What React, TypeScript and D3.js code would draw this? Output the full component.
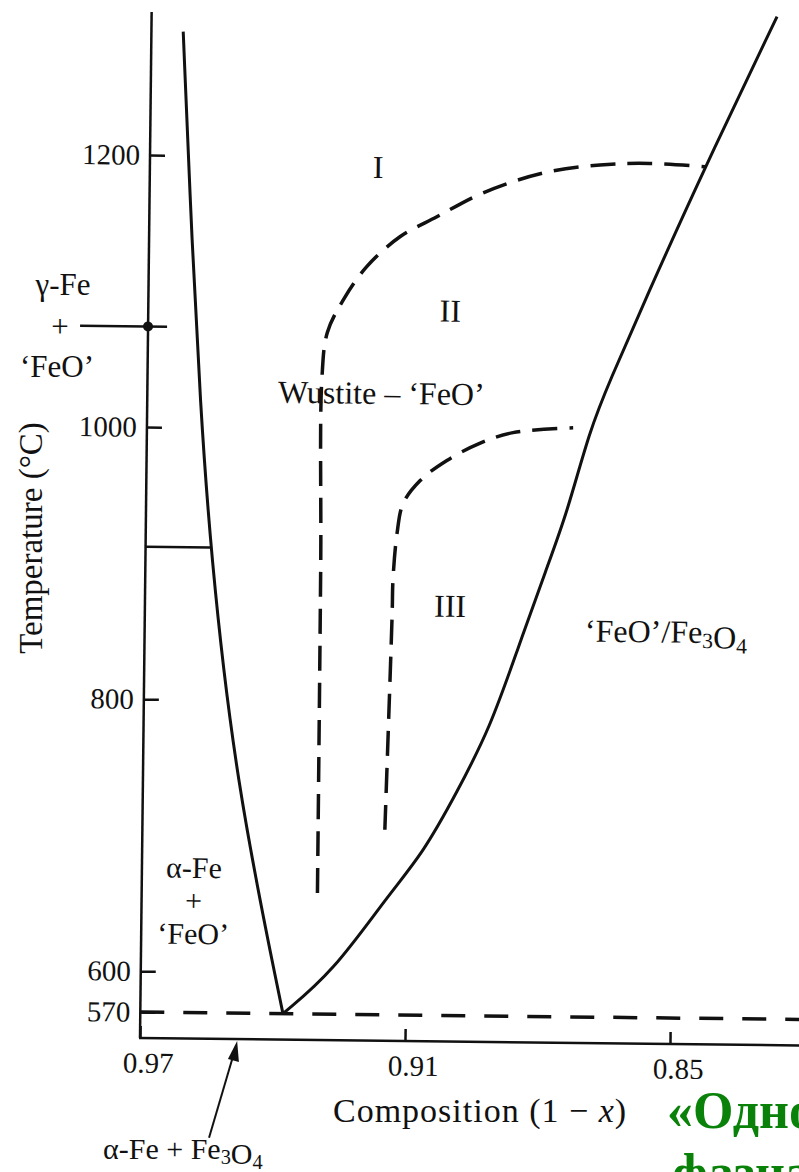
import React, { useEffect, useRef } from 'react';
import * as d3 from 'd3';

// Fe–O phase diagram near wustite, composition (1 - x) vs temperature (°C)
// points as [composition, temperature]
const feSideBoundary: [number, number][] = [
  [0.9628, 1291], [0.9602, 1131], [0.958, 1020], [0.9554, 912], [0.9491, 741], [0.9377, 570]
];
const magnetiteBoundary: [number, number][] = [
  [0.9377, 570], [0.9265, 601], [0.9144, 657], [0.9064, 689], [0.8989, 734], [0.8915, 782],
  [0.8856, 839], [0.8791, 900], [0.8747, 940], [0.8697, 1002], [0.8653, 1038], [0.8575, 1098],
  [0.8443, 1196], [0.8284, 1307]
];
const boundaryI_II: [number, number][] = [
  [0.9302, 659], [0.9303, 900], [0.9305, 1038], [0.9294, 1071], [0.9259, 1095], [0.9206, 1120],
  [0.9132, 1142], [0.9049, 1157], [0.8945, 1175], [0.881, 1190], [0.8681, 1196.5], [0.8568, 1198],
  [0.8443, 1196]
];
const boundaryII_III: [number, number][] = [
  [0.9151, 706], [0.914, 865], [0.9139, 890], [0.9131, 924], [0.9118, 946], [0.908, 963],
  [0.902, 978], [0.8945, 991], [0.8871, 999], [0.8735, 1003]
];
const eutectoidT = 570;
const gammaAlphaT = 912;
const gammaAlphaComp = 0.9554;
const gammaFeT = 1074;
const alphaFe3O4Comp = 0.948;

const yTicks = [1200, 1000, 800, 600, 570];
const xTicks = [0.97, 0.91, 0.85];

const regionLabels = [
  { lines: ['I'], comp: 0.9183, temp: 1185, anchor: 'middle', size: 32 },
  { lines: ['II'], comp: 0.9016, temp: 1080, anchor: 'middle', size: 32 },
  { lines: ['Wustite – ‘FeO’'], comp: 0.9404, temp: 1019, anchor: 'start', size: 32 },
  { lines: ['III'], comp: 0.9009, temp: 863, anchor: 'middle', size: 32 },
  { lines: ['‘FeO’/Fe_3O_4'], comp: 0.8703, temp: 846, anchor: 'start', size: 32 },
  { lines: ['α-Fe', '+', '‘FeO’'], comp: 0.9582, temp: 669, anchor: 'middle', size: 30 }
];

const SERIF = '"Liberation Serif", "DejaVu Serif", serif';
const INK = '#111';

// write "Fe_3O_4" style strings with subscripts
function richText(sel: any, str: string, size: number) {
  str.split(/(_\d)/).filter(s => s.length).forEach(part => {
    if (part[0] === '_') {
      sel.append('tspan').attr('font-size', size * 0.68).attr('dy', size * 0.16).text(part.slice(1));
      sel.append('tspan').attr('font-size', size).attr('dy', -size * 0.16).text('');
    } else {
      sel.append('tspan').text(part);
    }
  });
}

const App = () => {
  const ref = useRef<SVGSVGElement>(null);

  useEffect(() => {
    document.body.style.margin = '0';
    const svg = d3.select(ref.current);
    svg.selectAll('*').remove();

    const x0 = 140, yBottom = 1038, yTop = 12;

    const x = d3.scaleLinear().domain([0.97, 0.91]).range([x0, 405]);
    const y = d3.scaleLinear().domain([570, 1200]).range([1012, 155]);

    // the scanned figure is slightly tilted
    const g = svg.append('g').attr('transform', `rotate(0.65,${x0},${yBottom})`);

    // axes
    const yAxis = g.append('g')
      .attr('transform', `translate(${x0},0)`)
      .call(d3.axisLeft(y).tickValues(yTicks).tickSizeInner(-15).tickSizeOuter(0).tickPadding(10).tickFormat(d3.format('d')));
    yAxis.select('.domain').remove();
    yAxis.selectAll('line').attr('stroke', INK).attr('stroke-width', 2.5);
    yAxis.selectAll('text').attr('font-family', SERIF).attr('font-size', 29).attr('fill', INK);

    const xAxis = g.append('g')
      .attr('transform', `translate(0,${yBottom})`)
      .call(d3.axisBottom(x).tickValues(xTicks).tickSizeInner(-12).tickSizeOuter(0).tickPadding(14).tickFormat(d3.format('.2f')));
    xAxis.select('.domain').remove();
    xAxis.selectAll('line').attr('stroke', INK).attr('stroke-width', 2.5);
    xAxis.selectAll('text').attr('font-family', SERIF).attr('font-size', 29).attr('fill', INK).attr('dx', 8);

    g.append('line').attr('x1', x0).attr('x2', x0).attr('y1', yTop).attr('y2', yBottom)
      .attr('stroke', INK).attr('stroke-width', 2.5);
    g.append('line').attr('x1', x0 - 1).attr('x2', x(0.81)).attr('y1', yBottom).attr('y2', yBottom)
      .attr('stroke', INK).attr('stroke-width', 2.5);

    const smooth = d3.line<[number, number]>()
      .x(d => x(d[0]))
      .y(d => y(d[1]))
      .curve(d3.curveBasis);
    const line = d3.line<[number, number]>()
      .x(d => x(d[0]))
      .y(d => y(d[1]))
      .curve(d3.curveCatmullRom.alpha(0.5));

    // solid phase boundaries
    [feSideBoundary, magnetiteBoundary].forEach(data => {
      g.append('path').datum(data).attr('d', smooth)
        .attr('fill', 'none').attr('stroke', INK).attr('stroke-width', 3);
    });
    g.append('path').datum([[0.97, gammaAlphaT], [gammaAlphaComp, gammaAlphaT]] as [number, number][])
      .attr('d', line).attr('fill', 'none').attr('stroke', INK).attr('stroke-width', 2.5);

    // dashed boundaries inside wustite
    [boundaryI_II, boundaryII_III].forEach(data => {
      g.append('path').datum(data).attr('d', line)
        .attr('fill', 'none').attr('stroke', INK).attr('stroke-width', 3.5)
        .attr('stroke-dasharray', '25,12');
    });

    // eutectoid line
    g.append('path').datum([[0.97, eutectoidT], [0.81, eutectoidT]] as [number, number][])
      .attr('d', line).attr('fill', 'none').attr('stroke', INK).attr('stroke-width', 3.5)
      .attr('stroke-dasharray', '24,19');

    // gamma-Fe + FeO pointer on the axis
    const ga = y(gammaFeT);
    g.append('line').attr('x1', x0 - 68).attr('x2', x0 + 19).attr('y1', ga).attr('y2', ga)
      .attr('stroke', INK).attr('stroke-width', 2.5);
    g.append('circle').attr('cx', x0).attr('cy', ga).attr('r', 5).attr('fill', INK);

    // alpha-Fe + Fe3O4 pointer
    const tipX = x(alphaFe3O4Comp), tipY = yBottom + 2;
    g.append('line').attr('x1', tipX - 3).attr('y1', tipY + 12).attr('x2', tipX - 27).attr('y2', tipY + 97)
      .attr('stroke', INK).attr('stroke-width', 2);
    g.append('path')
      .attr('d', `M${tipX},${tipY} L${tipX - 9},${tipY + 18} L${tipX + 2},${tipY + 21} Z`)
      .attr('fill', INK);

    // region labels
    regionLabels.forEach(l => {
      const t = g.append('text')
        .attr('x', x(l.comp)).attr('y', y(l.temp))
        .attr('text-anchor', l.anchor)
        .attr('font-family', SERIF).attr('font-size', l.size).attr('fill', INK);
      l.lines.forEach((ln, i) => {
        const ts = t.append('tspan').attr('x', x(l.comp)).attr('dy', i === 0 ? 0 : 33);
        richText(ts, ln, l.size);
      });
    });

    // labels outside the axes
    const gf = svg.append('text').attr('font-family', SERIF).attr('font-size', 31).attr('fill', INK)
      .attr('text-anchor', 'middle');
    gf.append('tspan').attr('x', 63).attr('y', 295).text('γ-Fe');
    gf.append('tspan').attr('x', 60).attr('y', 337).text('+');
    gf.append('tspan').attr('x', 57).attr('y', 377).text('‘FeO’');

    const af = svg.append('text').attr('x', 103).attr('y', 1159)
      .attr('font-family', SERIF).attr('font-size', 30).attr('fill', INK);
    richText(af, 'α-Fe + Fe_3O_4', 30);

    const xl = svg.append('text').attr('x', 333).attr('y', 1122)
      .attr('font-family', SERIF).attr('font-size', 34).attr('letter-spacing', 1).attr('fill', INK);
    xl.append('tspan').text('Composition (1 − ');
    xl.append('tspan').attr('font-style', 'italic').text('x');
    xl.append('tspan').text(')');

    svg.append('text')
      .attr('transform', 'translate(42,538) rotate(-90)')
      .attr('text-anchor', 'middle')
      .attr('font-family', SERIF).attr('font-size', 33).attr('fill', INK)
      .text('Temperature (°C)');

    const green = svg.append('text').attr('font-family', SERIF).attr('font-size', 52)
      .attr('font-weight', 'bold').attr('fill', '#0a820a');
    green.append('tspan').attr('x', 667).attr('y', 1128).text('«Одно-');
    green.append('tspan').attr('x', 672).attr('y', 1190).text('фазная»');
  }, []);

  return <svg ref={ref} width={799} height={1172} style={{ display: 'block', background: '#fff' }} />;
};

export default App;
